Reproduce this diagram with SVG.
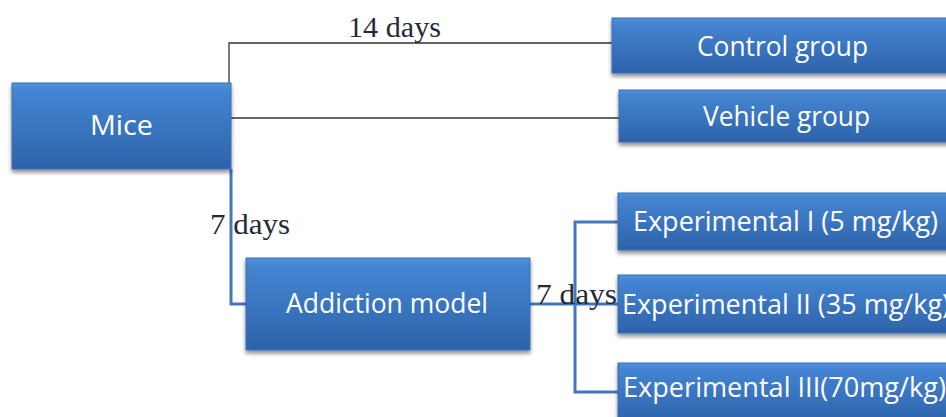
<svg xmlns="http://www.w3.org/2000/svg" width="946" height="417" viewBox="0 0 946 417">
<defs>
<linearGradient id="boxGrad" x1="0" y1="0" x2="0" y2="1">
<stop offset="0" stop-color="#5593dc"/>
<stop offset="0.08" stop-color="#4585d2"/>
<stop offset="1" stop-color="#2d62aa"/>
</linearGradient>
<filter id="shadow" x="-5%" y="-10%" width="110%" height="130%">
<feGaussianBlur in="SourceAlpha" stdDeviation="2"/>
<feOffset dx="0" dy="3" result="b"/>
<feComponentTransfer><feFuncA type="linear" slope="0.45"/></feComponentTransfer>
<feMerge><feMergeNode/><feMergeNode in="SourceGraphic"/></feMerge>
</filter>
</defs>
<style>
.box{fill:url(#boxGrad);stroke:#3a6fb3;stroke-width:1;filter:url(#shadow)}
.lbl{font-family:"Open Sans","Liberation Sans",sans-serif;font-size:28px;fill:#ffffff}
.thin{fill:none;stroke:#333333;stroke-width:1.3}
.blue{fill:none;stroke:#4677b8;stroke-width:3}
.days{font-family:"Liberation Serif","DejaVu Serif",serif;font-size:30px;fill:#1f2b3a}
</style>
<rect width="946" height="417" fill="#ffffff"/>
<g id="connectors">
<polyline class="thin" points="229,83 229,43 612,43"/>
<line class="thin" x1="231" y1="118" x2="619" y2="118"/>
<polyline class="blue" points="231,169 231,304 247,304"/>
<line class="blue" x1="529" y1="304" x2="575" y2="304"/>
<polyline class="blue" points="618,222 575,222 575,392 618,392"/>
<line class="blue" x1="575" y1="304" x2="618" y2="304"/>
<text class="days" x="348" y="37" textLength="93" lengthAdjust="spacingAndGlyphs">14 days</text>
<text class="days" x="210" y="234" textLength="80" lengthAdjust="spacingAndGlyphs">7 days</text>
<text class="days" x="536" y="304" textLength="81" lengthAdjust="spacingAndGlyphs">7 days</text>
</g>
<g id="mice">
<rect class="box" x="12" y="83" width="219" height="86"/>
<text class="lbl" x="90" y="135" textLength="63" lengthAdjust="spacingAndGlyphs">Mice</text>
</g>
<g id="control">
<rect class="box" x="612" y="18" width="350" height="55"/>
<text class="lbl" x="697" y="56" textLength="171" lengthAdjust="spacingAndGlyphs">Control group</text>
</g>
<g id="vehicle">
<rect class="box" x="619" y="90" width="350" height="52"/>
<text class="lbl" x="703" y="126" textLength="167" lengthAdjust="spacingAndGlyphs">Vehicle group</text>
</g>
<g id="addiction">
<rect class="box" x="246" y="258" width="284" height="92"/>
<text class="lbl" x="286" y="313" textLength="202" lengthAdjust="spacingAndGlyphs">Addiction model</text>
</g>
<g id="exp1">
<rect class="box" x="618" y="193" width="350" height="57"/>
<text class="lbl" x="633" y="231" textLength="305" lengthAdjust="spacingAndGlyphs">Experimental I (5 mg/kg)</text>
</g>
<g id="exp2">
<rect class="box" x="618" y="275" width="350" height="58"/>
<text class="lbl" x="622" y="314" textLength="328" lengthAdjust="spacingAndGlyphs">Experimental II (35 mg/kg)</text>
</g>
<g id="exp3">
<rect class="box" x="618" y="363" width="350" height="60"/>
<text class="lbl" x="623" y="397" textLength="323" lengthAdjust="spacingAndGlyphs">Experimental III(70mg/kg)</text>
</g>
</svg>
